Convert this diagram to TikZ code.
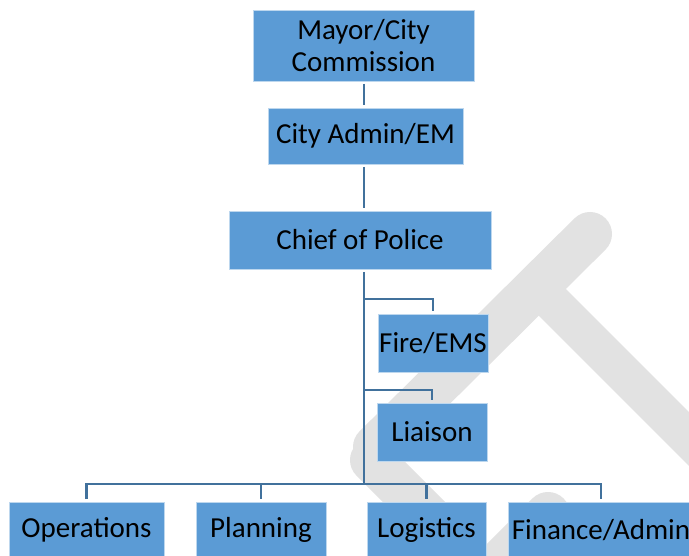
\documentclass[tikz,border=0pt]{standalone}
\usepackage{fontspec}
\setmainfont{Carlito}
\definecolor{unitblue}{HTML}{5B9BD5}
\definecolor{linkblue}{HTML}{41719C}
\definecolor{markgray}{HTML}{E2E2E2}
\tikzstyle{unit}=[fill=unitblue,draw=white!60!unitblue,line width=0.8pt,inner sep=0pt,outer sep=3pt,align=center,font=\fontsize{29}{32}\selectfont]
\tikzstyle{link}=[draw=linkblue,line width=2.8pt]
\tikzstyle{watermark}=[draw=markgray,line width=44pt,line cap=round]

\begin{document}
\begin{tikzpicture}[x=1pt,y=-1pt]
  \clip (0,0) rectangle (689,556);
  \fill[white] (0,0) rectangle (689,556);
  % faint letters behind the chart
  \draw[watermark] (590,234) -- (375,447);
  \draw[watermark,line width=38pt,line cap=butt] (536,286) -- (740,490);
  \draw[watermark] (372,460) -- (520,608);
  \draw[watermark] (470,592) -- (548,514);

  \coordinate (spine) at (364,0);
  \node[unit,minimum width=221pt,minimum height=71pt] (mayor) at (363.5,45.5) {Mayor/City\\Commission};
  \node[unit,minimum width=195pt,minimum height=56pt] (admin) at (365.5,136) {City Admin/EM};
  \node[unit,minimum width=262pt,minimum height=58pt] (chief) at (360,240) {Chief of Police};
  \node[unit,minimum width=110pt,minimum height=58pt] (fire) at (433,343) {Fire/EMS};
  \node[unit,minimum width=110pt,minimum height=58pt] (liaison) at (432,432) {Liaison};
  \node[unit,minimum width=155pt,minimum height=56pt] (ops) at (86.5,530) {Operations};
  \node[unit,minimum width=130pt,minimum height=56pt] (plan) at (261,530) {Planning};
  \node[unit,minimum width=119pt,minimum height=56pt] (logi) at (426.5,530) {Logistics};
  \node[unit,minimum width=186pt,minimum height=56pt] (fin) at (601,530) {Finance/Admin};

  \coordinate (firejoin) at (364,299);
  \coordinate (liaisonjoin) at (364,390);
  \coordinate (bus) at (364,484);

  \draw[link] (mayor.south -| spine) -- (admin.north -| spine);
  \draw[link] (admin.south -| spine) -- (chief.north -| spine);
  \draw[link] (chief.south -| spine) -- (bus);
  \draw[link] (firejoin) -| (fire.north);
  \draw[link] (liaisonjoin) -| (liaison.north);
  \draw[link] (ops.north) |- (bus) -| (fin.north);
  \draw[link] (bus -| plan.north) -- (plan.north);
  \draw[link] (bus -| logi.north) -- (logi.north);
\end{tikzpicture}
\end{document}
